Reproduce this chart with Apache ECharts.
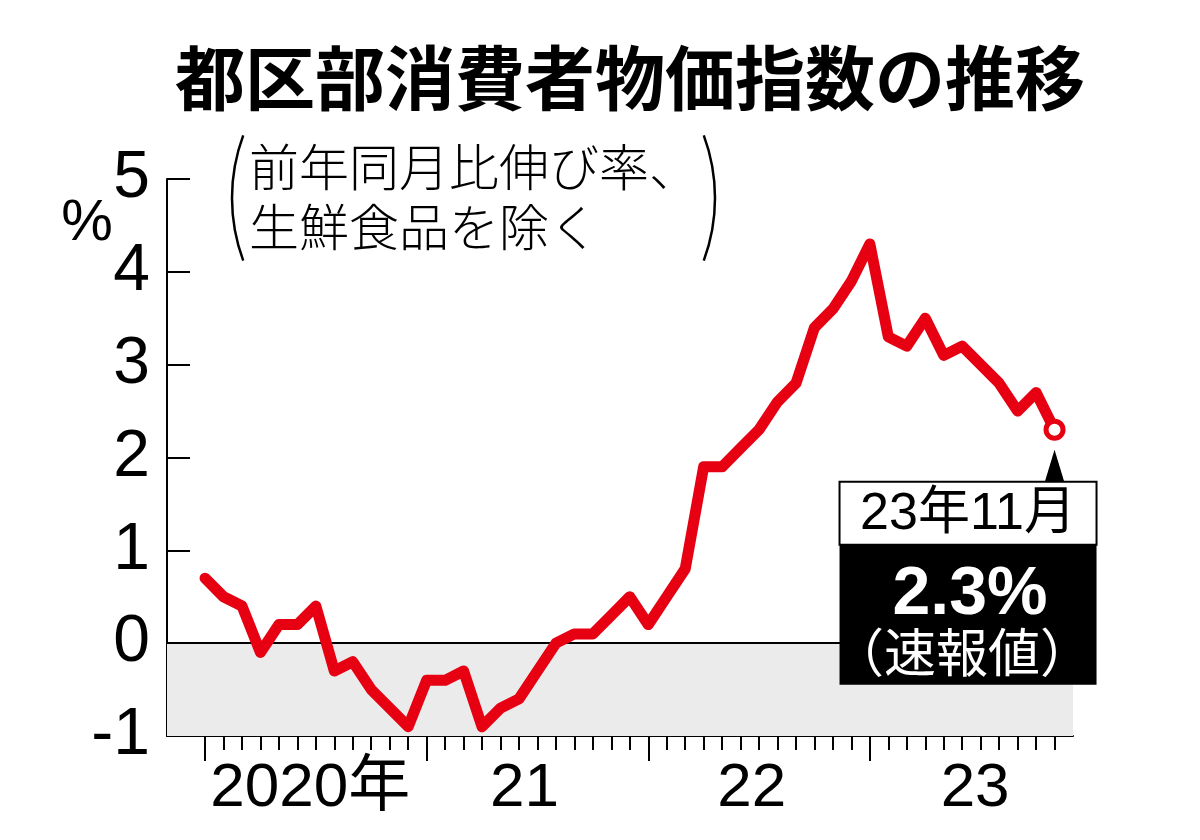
<!DOCTYPE html>
<html>
<head>
<meta charset="utf-8">
<script src="https://cdn.jsdelivr.net/npm/echarts@6/dist/echarts.min.js"></script>
<style>
html,body{margin:0;padding:0;background:#fff;}
#chart{width:1200px;height:840px;}
</style>
</head>
<body>
<div id="chart"></div>
<script>
// ---- data ----
// monthly, Jan 2020 .. Nov 2023 (index 0 = 2020年1月)
const values = [
  0.7, 0.5, 0.4, -0.1, 0.2, 0.2, 0.4, -0.3, -0.2, -0.5, -0.7, -0.9,
  -0.4, -0.4, -0.3, -0.9, -0.7, -0.6, -0.3, 0.0, 0.1, 0.1, 0.3, 0.5,
  0.2, 0.5, 0.8, 1.9, 1.9, 2.1, 2.3, 2.6, 2.8, 3.4, 3.6, 3.9,
  4.3, 3.3, 3.2, 3.5, 3.1, 3.2, 3.0, 2.8, 2.5, 2.7, 2.3
];
const yearLabels = ['2020年', '21', '22', '23'];
const yTicks = [-1, 0, 1, 2, 3, 4, 5];
const titleText = '都区部消費者物価指数の推移';
const subtitleLines = ['前年同月比伸び率、', '生鮮食品を除く'];
const latestLabel = '23年11月';
const latestNote = '（速報値）';

// ---- build ----
const RED = '#e60012';
const NUM_FONT = '"Liberation Sans", "Noto Sans CJK JP", sans-serif';
const CJK_FONT = '"Noto Sans CJK JP", sans-serif';

const lineData = values.map((v, i) => [i, v]);
const lastIdx = values.length - 1;
const monthTicks = values.map((v, i) => i);
const yearStarts = [0, 12, 24, 36];
const yearLabelPos = [5.7, 17.3, 29.6, 41.7];

const chart = echarts.init(document.getElementById('chart'), null, {renderer: 'canvas'});

const staticGraphics = [
  {id: 'title', type: 'text', z: 10,
   style: {text: titleText, x: 630, y: 78, font: 'bold 70px ' + CJK_FONT, fill: '#000',
           textAlign: 'center', textVerticalAlign: 'middle', align: 'center', verticalAlign: 'middle'}},
  {id: 'sub1', type: 'text', z: 10,
   style: {text: subtitleLines[0], x: 249, y: 167, font: '300 50px ' + CJK_FONT, fill: '#000',
           textAlign: 'left', textVerticalAlign: 'middle', align: 'left', verticalAlign: 'middle'}},
  {id: 'sub2', type: 'text', z: 10,
   style: {text: subtitleLines[1], x: 249, y: 227, font: '300 50px ' + CJK_FONT, fill: '#000',
           textAlign: 'left', textVerticalAlign: 'middle', align: 'left', verticalAlign: 'middle'}},
  {id: 'parenL', type: 'arc', z: 10,
   shape: {cx: 412, cy: 198, r: 180, startAngle: Math.PI - 0.355, endAngle: Math.PI + 0.355, clockwise: true},
   style: {stroke: '#000', fill: null, lineWidth: 2.5}},
  {id: 'parenR', type: 'arc', z: 10,
   shape: {cx: 535, cy: 198, r: 180, startAngle: -0.355, endAngle: 0.355, clockwise: true},
   style: {stroke: '#000', fill: null, lineWidth: 2.5}},
  {id: 'pct', type: 'text', z: 10,
   style: {text: '%', x: 87, y: 224, font: '58px ' + NUM_FONT, fill: '#000',
           textAlign: 'center', textVerticalAlign: 'middle', align: 'center', verticalAlign: 'middle'}}
];

const option = {
  animation: false,
  backgroundColor: '#fff',
  grid: {left: 167, right: 127, top: 179, bottom: 104, outerBoundsMode: 'none', containLabel: false},
  xAxis: [
    {
      type: 'value', position: 'bottom', min: -2.06, max: 47,
      axisLine: {show: true, onZero: false, lineStyle: {color: '#000', width: 2}},
      axisTick: {show: true, inside: false, length: 14, customValues: monthTicks, lineStyle: {color: '#000', width: 2}},
      axisLabel: {
        show: true, customValues: yearLabelPos, margin: 22,
        fontSize: 62, fontFamily: NUM_FONT, color: '#000',
        formatter: function (v) {
          for (let k = 0; k < yearLabelPos.length; k++) {
            if (Math.abs(yearLabelPos[k] - v) < 1e-6) return yearLabels[k];
          }
          return '';
        }
      },
      splitLine: {show: false}
    },
    {
      type: 'value', position: 'bottom', min: -2.06, max: 47,
      axisLine: {show: false, onZero: false},
      axisTick: {show: true, inside: false, length: 25, customValues: yearStarts, lineStyle: {color: '#000', width: 2}},
      axisLabel: {show: false},
      splitLine: {show: false}
    }
  ],
  yAxis: {
    type: 'value', min: yTicks[0], max: yTicks[yTicks.length - 1], interval: 1,
    axisLine: {show: true, onZero: false, lineStyle: {color: '#000', width: 2}},
    axisTick: {show: true, inside: true, length: 23, lineStyle: {color: '#000', width: 2}},
    axisLabel: {fontSize: 66, fontFamily: NUM_FONT, color: '#000', margin: 17},
    splitLine: {show: false}
  },
  series: [
    {
      type: 'line', xAxisIndex: 0, yAxisIndex: 0,
      data: lineData, symbol: 'none', z: 5,
      lineStyle: {color: RED, width: 11, cap: 'round', join: 'round'},
      markArea: {
        silent: true,
        itemStyle: {color: '#ebebeb'},
        data: [[{yAxis: -1}, {yAxis: 0}]]
      },
      markLine: {
        silent: true, symbol: ['none', 'none'],
        label: {show: false},
        lineStyle: {color: '#000', width: 2, type: 'solid'},
        data: [{yAxis: 0}]
      }
    },
    {
      type: 'scatter', xAxisIndex: 0, yAxisIndex: 0, z: 6,
      data: [[lastIdx, values[lastIdx]]],
      symbol: 'circle', symbolSize: 17,
      itemStyle: {color: '#fff', borderColor: RED, borderWidth: 5, opacity: 1}
    }
  ],
  graphic: staticGraphics
};

chart.setOption(option);

// annotation anchored to the latest data point
const p = chart.convertToPixel({xAxisIndex: 0, yAxisIndex: 0}, [lastIdx, values[lastIdx]]);
const px = p[0], py = p[1];
const boxL = px - 215, boxW = 257;
const annot = [
  {id: 'tri', type: 'polygon', z: 10,
   shape: {points: [[px, py + 20], [px - 10, py + 53], [px + 10, py + 53]]},
   style: {fill: '#000'}},
  {id: 'wbox', type: 'rect', z: 10,
   shape: {x: boxL, y: py + 52, width: boxW, height: 63},
   style: {fill: '#fff', stroke: '#000', lineWidth: 2}},
  {id: 'bbox', type: 'rect', z: 10,
   shape: {x: boxL, y: py + 115, width: boxW, height: 140},
   style: {fill: '#000'}},
  {id: 'latestLabel', type: 'text', z: 11,
   style: {text: latestLabel, x: boxL + boxW / 2, y: py + 85, font: '52px ' + NUM_FONT, fill: '#000',
           textAlign: 'center', textVerticalAlign: 'middle', align: 'center', verticalAlign: 'middle'}},
  {id: 'latestVal', type: 'text', z: 11,
   style: {text: values[lastIdx].toFixed(1) + '%', x: boxL + boxW / 2 + 2, y: py + 166, font: 'bold 68px ' + NUM_FONT, fill: '#fff',
           textAlign: 'center', textVerticalAlign: 'middle', align: 'center', verticalAlign: 'middle'}},
  {id: 'latestNote', type: 'text', z: 11,
   style: {text: latestNote, x: boxL + boxW / 2 - 6, y: py + 223, font: '52px ' + CJK_FONT, fill: '#fff',
           textAlign: 'center', textVerticalAlign: 'middle', align: 'center', verticalAlign: 'middle'}}
];
chart.setOption({graphic: annot});
</script>
</body>
</html>
